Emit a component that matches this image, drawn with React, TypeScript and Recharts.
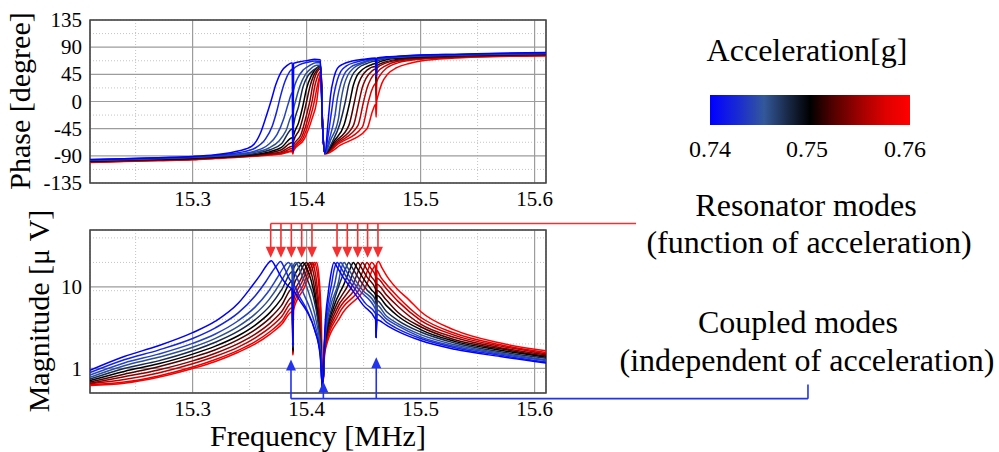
import {
  LineChart,
  Line,
  XAxis,
  YAxis,
  CartesianGrid,
  ReferenceArea,
  ReferenceLine,
  ReferenceDot,
} from "recharts"

const serif = "'Liberation Serif', 'Times New Roman', Times, serif"

// acceleration of each sweep [g] and its colour on the blue-black-red scale
const accelerations = [0.74, 0.742, 0.744, 0.746, 0.748, 0.75, 0.752, 0.754, 0.756, 0.758, 0.76]
const curveColors = [
  "#0000ff", "#1424e0", "#2542c0", "#2d4f90", "#18284f", "#000000",
  "#4d0000", "#870000", "#bb0000", "#e20000", "#ff0000",
]
const scaleLabels = ["0.74", "0.75", "0.76"]
const scaleStops: [number, string][] = [
  [0, "#0000ff"], [0.14, "#1a2ad2"], [0.27, "#33589a"], [0.4, "#16253f"], [0.5, "#000000"],
  [0.6, "#4a0000"], [0.75, "#a00000"], [0.88, "#e00000"], [1, "#ff0000"],
]

const freqTicks = [15.3, 15.4, 15.5, 15.6]
const freqMinorTicks = [15.25, 15.35, 15.45, 15.55]
const phaseTicks = [-135, -90, -45, 0, 45, 90, 135]
const phaseMinorTicks = [-112.5, -67.5, -22.5, 22.5, 67.5, 112.5]
const magTicks = [1, 10]
const magMinorTicks = [0.6, 0.7, 0.8, 0.9, 2, 3, 4, 5, 6, 7, 8, 9, 20, 30, 40]

// annotated frequencies [MHz]
const resonatorModes = [15.3685, 15.3775, 15.3866, 15.3957, 15.4047, 15.4267, 15.4357, 15.4448, 15.4535, 15.4626]
const coupledModes = [15.3863, 15.4147, 15.4611]
const coupledTips = [1.29, 0.69, 1.37]

// each row: frequency [MHz], magnitude [µV], phase [degree]
const accel0740 = [
  [15.21, 0.95, -96], [15.24, 1.4, -95], [15.27, 1.9, -93], [15.3, 2.75, -91], [15.32, 3.8, -88],
  [15.34, 6.3, -82], [15.352, 10.2, -74], [15.36, 14.5, -50], [15.365, 18.5, -22], [15.369, 21, 2],
  [15.373, 17.5, 28], [15.378, 13, 50], [15.383, 10.5, 60], [15.3875, 9.2, 64], [15.388, 1.9, -82],
  [15.3885, 8.8, 63], [15.394, 6.8, 66], [15.401, 4.8, 68], [15.407, 3.0, 70], [15.412, 1.4, 69],
  [15.414, 0.55, -40], [15.416, 3.0, -86], [15.419, 8.5, -30], [15.421, 13.5, 10], [15.424, 20, 40],
  [15.427, 17.3, 55], [15.432, 13.2, 62], [15.44, 9.2, 67], [15.45, 5.9, 70], [15.4605, 4.0, 72],
  [15.461, 2.4, 42], [15.4615, 3.95, 72], [15.47, 3.4, 74], [15.48, 2.85, 75], [15.5, 2.2, 77],
  [15.53, 1.72, 78], [15.57, 1.4, 80], [15.61, 1.17, 81],
]
const accel0742 = [
  [15.21, 0.89, -96.5], [15.24, 1.28, -95], [15.27, 1.68, -93.5], [15.3, 2.33, -91.5], [15.32, 3.15, -89],
  [15.34, 4.8, -85], [15.355, 7.8, -77], [15.364, 11.5, -62], [15.37, 15.5, -40], [15.374, 18.5, -15],
  [15.377, 20.5, 8], [15.381, 16.5, 33], [15.385, 12.5, 49], [15.3875, 11, 54], [15.388, 1.9, -72],
  [15.3885, 10.5, 54], [15.394, 7.5, 61], [15.401, 5.0, 65], [15.407, 3.0, 67], [15.412, 1.5, 66],
  [15.414, 0.55, -40], [15.416, 2.5, -86], [15.419, 6.5, -55], [15.422, 11, -15], [15.424, 16, 12],
  [15.427, 20, 36], [15.43, 17.3, 50], [15.435, 13.2, 59], [15.443, 9.2, 65], [15.452, 6.2, 69],
  [15.4605, 4.7, 71], [15.461, 2.4, 42], [15.4615, 4.65, 71], [15.47, 3.7, 73], [15.48, 3.06, 74.5],
  [15.5, 2.33, 76.5], [15.53, 1.8, 78], [15.57, 1.45, 79.5], [15.61, 1.2, 80.5],
]
const accel0744 = [
  [15.21, 0.83, -97], [15.24, 1.17, -95.5], [15.27, 1.5, -94], [15.3, 2.03, -92], [15.32, 2.65, -90],
  [15.34, 3.85, -87], [15.355, 5.7, -82], [15.366, 8.6, -72], [15.374, 12.8, -55], [15.38, 17.5, -28],
  [15.384, 20, -3], [15.3875, 16.5, 15], [15.388, 1.9, -62], [15.3885, 15.5, 18], [15.392, 12.5, 38],
  [15.397, 8.5, 52], [15.403, 5.4, 60], [15.408, 3.2, 64], [15.412, 1.6, 64], [15.414, 0.55, -40],
  [15.416, 2.4, -86], [15.42, 6.0, -62], [15.425, 11.5, -22], [15.427, 16, 5], [15.43, 20, 30],
  [15.433, 17.3, 45], [15.438, 13.2, 56], [15.446, 9.2, 63], [15.4605, 5.3, 70], [15.461, 2.4, 42],
  [15.4615, 5.25, 70], [15.47, 4.05, 72.5], [15.48, 3.33, 74], [15.5, 2.44, 76], [15.53, 1.87, 77.5],
  [15.57, 1.5, 79], [15.61, 1.25, 80],
]
const accel0746 = [
  [15.21, 0.78, -97.5], [15.24, 1.08, -96], [15.27, 1.37, -94.5], [15.3, 1.82, -92.5], [15.32, 2.34, -90.5],
  [15.34, 3.28, -88], [15.355, 4.67, -84], [15.367, 7.0, -77], [15.376, 10.7, -65], [15.382, 15, -48],
  [15.3875, 19.5, -22], [15.388, 1.9, -62], [15.3885, 18.5, -15], [15.3905, 20, 2], [15.394, 16, 25],
  [15.399, 11, 45], [15.404, 6.8, 55], [15.409, 3.5, 60], [15.412, 1.8, 60], [15.414, 0.55, -40],
  [15.416, 2.3, -86], [15.421, 5.8, -64], [15.428, 11.5, -28], [15.43, 16, 0], [15.433, 20, 28],
  [15.436, 17.3, 43], [15.441, 13.2, 55], [15.449, 9.2, 63], [15.4605, 6.1, 69], [15.461, 2.4, 42],
  [15.4615, 6.0, 69], [15.47, 4.4, 72], [15.48, 3.55, 73.5], [15.5, 2.6, 75.5], [15.53, 1.95, 77],
  [15.57, 1.55, 78.5], [15.61, 1.28, 79.5],
]
const accel0748 = [
  [15.21, 0.74, -98], [15.24, 1.0, -96.5], [15.27, 1.24, -95], [15.3, 1.65, -93], [15.32, 2.1, -91],
  [15.34, 2.87, -89], [15.355, 3.98, -86], [15.368, 5.9, -80], [15.378, 9.2, -70], [15.3875, 15.5, -45],
  [15.388, 1.8, -66], [15.3885, 16.7, -40], [15.393, 20, -8], [15.397, 16.5, 25], [15.401, 12, 42],
  [15.406, 7.5, 52], [15.41, 3.8, 57], [15.4125, 1.9, 58], [15.414, 0.55, -40], [15.416, 2.2, -86],
  [15.423, 6.0, -65], [15.429, 11, -38], [15.434, 16.5, 0], [15.437, 20, 28], [15.44, 17.3, 43],
  [15.445, 13.2, 55], [15.453, 9.2, 63], [15.4605, 6.9, 67], [15.461, 2.4, 40], [15.4615, 6.8, 67],
  [15.47, 5.0, 71], [15.48, 3.9, 73], [15.5, 2.8, 75], [15.53, 2.05, 76.5], [15.57, 1.6, 78],
  [15.61, 1.33, 79],
]
const accel0750 = [
  [15.21, 0.71, -98.5], [15.24, 0.92, -97], [15.27, 1.14, -95.5], [15.3, 1.5, -94], [15.32, 1.88, -92],
  [15.34, 2.52, -90], [15.355, 3.41, -87.5], [15.368, 4.88, -83], [15.378, 7.2, -76], [15.3875, 12, -60],
  [15.388, 1.7, -72], [15.3885, 12.5, -57], [15.393, 17.1, -35], [15.397, 20, -5], [15.4, 17, 22],
  [15.404, 12, 42], [15.408, 6.5, 54], [15.411, 3.0, 58], [15.4125, 1.8, 58], [15.414, 0.55, -40],
  [15.416, 2.1, -86], [15.424, 5.8, -66], [15.433, 11, -38], [15.438, 16.5, 0], [15.441, 20, 27],
  [15.444, 17.3, 42], [15.449, 13.2, 53], [15.457, 9.2, 61], [15.4605, 8.0, 63], [15.461, 2.4, 40],
  [15.4615, 7.9, 63], [15.47, 5.9, 69], [15.48, 4.4, 71.5], [15.5, 3.0, 74], [15.53, 2.15, 76],
  [15.57, 1.67, 77.5], [15.61, 1.37, 78.5],
]
const accel0752 = [
  [15.21, 0.68, -99], [15.24, 0.85, -97.5], [15.27, 1.05, -96], [15.3, 1.37, -94.5], [15.32, 1.7, -92.5],
  [15.34, 2.26, -90.5], [15.355, 3.0, -88.5], [15.368, 4.18, -85], [15.378, 5.95, -80], [15.3875, 9.6, -68],
  [15.388, 1.65, -76], [15.3885, 10.2, -66], [15.394, 14.7, -45], [15.397, 18.2, -25], [15.4, 20, 0],
  [15.403, 16.5, 25], [15.406, 11.5, 42], [15.409, 6.0, 52], [15.4115, 2.8, 56], [15.4125, 1.9, 56],
  [15.414, 0.55, -40], [15.416, 2.0, -86], [15.425, 5.5, -67], [15.437, 11, -40], [15.442, 16.5, 0],
  [15.445, 20, 26], [15.448, 17.3, 40], [15.453, 13.2, 52], [15.4605, 9.4, 58], [15.461, 2.4, 35],
  [15.4615, 9.1, 59], [15.47, 6.9, 66], [15.48, 4.9, 70], [15.5, 3.25, 73], [15.53, 2.25, 75],
  [15.57, 1.74, 77], [15.61, 1.42, 78],
]
const accel0754 = [
  [15.21, 0.66, -99.5], [15.24, 0.79, -98], [15.27, 0.96, -96.5], [15.3, 1.24, -95], [15.32, 1.54, -93],
  [15.34, 2.02, -91], [15.355, 2.64, -89], [15.368, 3.6, -86.5], [15.378, 4.96, -83], [15.3875, 7.6, -74],
  [15.388, 1.6, -80], [15.3885, 8.1, -73], [15.395, 12.5, -55], [15.4, 18.1, -22], [15.403, 20, 2],
  [15.4055, 16, 28], [15.408, 10.5, 44], [15.4105, 5.0, 52], [15.4125, 2.2, 54], [15.414, 0.55, -40],
  [15.416, 1.9, -86], [15.426, 5.2, -68], [15.441, 11, -40], [15.446, 16.5, 0], [15.449, 20, 24],
  [15.452, 17.3, 38], [15.457, 13.2, 50], [15.4605, 11.2, 54], [15.461, 2.4, 30], [15.4615, 10.9, 55],
  [15.47, 8.0, 64], [15.48, 5.8, 68.5], [15.5, 3.5, 72], [15.53, 2.4, 74], [15.57, 1.8, 76.5],
  [15.61, 1.47, 77.5],
]
const accel0756 = [
  [15.21, 0.65, -100], [15.24, 0.73, -98.5], [15.27, 0.88, -97], [15.3, 1.14, -95.5], [15.32, 1.41, -93.5],
  [15.34, 1.83, -91.5], [15.355, 2.38, -89.5], [15.368, 3.19, -87.5], [15.378, 4.31, -85], [15.3875, 6.5, -78],
  [15.388, 1.55, -83], [15.3885, 6.9, -77], [15.396, 11.5, -58], [15.402, 18, -22], [15.405, 20, 2],
  [15.407, 16.5, 24], [15.409, 11, 38], [15.411, 5.5, 47], [15.4125, 2.5, 50], [15.414, 0.55, -40],
  [15.416, 1.8, -86], [15.427, 4.9, -69], [15.445, 11, -40], [15.45, 16.5, 0], [15.453, 20, 22],
  [15.456, 17.3, 36], [15.4605, 13.5, 46], [15.461, 2.4, 10], [15.4615, 12.9, 47], [15.47, 9.5, 60],
  [15.48, 6.7, 66.5], [15.5, 3.9, 71], [15.53, 2.55, 73.5], [15.57, 1.88, 76], [15.61, 1.52, 77],
]
const accel0758 = [
  [15.21, 0.63, -100.5], [15.24, 0.68, -99], [15.27, 0.81, -97.5], [15.3, 1.04, -96], [15.32, 1.29, -94],
  [15.34, 1.67, -92], [15.355, 2.13, -90], [15.368, 2.84, -88], [15.378, 3.76, -86], [15.3875, 5.6, -81],
  [15.388, 1.5, -85], [15.3885, 5.9, -80], [15.397, 10.5, -60], [15.403, 16.8, -28], [15.407, 20, 2],
  [15.409, 16, 22], [15.411, 9.5, 38], [15.4125, 4.0, 45], [15.414, 0.55, -40], [15.416, 1.7, -86],
  [15.428, 4.6, -70], [15.449, 11, -42], [15.454, 16.5, -2], [15.457, 20, 18], [15.4605, 16.9, 30],
  [15.461, 2.4, -8], [15.4615, 16, 32], [15.465, 13.2, 45], [15.47, 10.8, 55], [15.48, 7.6, 64],
  [15.5, 4.25, 70], [15.53, 2.7, 73], [15.57, 1.95, 75.5], [15.61, 1.57, 76.5],
]
const accel0760 = [
  [15.21, 0.62, -101], [15.24, 0.66, -99.5], [15.27, 0.78, -98], [15.3, 1.0, -96.5], [15.32, 1.22, -94.5],
  [15.34, 1.58, -92.5], [15.355, 2.0, -90.5], [15.368, 2.64, -88.5], [15.378, 3.46, -87], [15.3875, 5.0, -83],
  [15.388, 1.45, -87], [15.3885, 5.2, -82], [15.398, 9.8, -62], [15.4045, 16.2, -30], [15.409, 20, 2],
  [15.4105, 15, 25], [15.412, 8, 45], [15.413, 3.5, 40], [15.414, 0.55, -40], [15.416, 1.6, -87],
  [15.43, 4.4, -72], [15.453, 11, -45], [15.458, 16.5, -15], [15.4605, 18.5, -5], [15.461, 2.6, -26],
  [15.4615, 19.2, 0], [15.463, 20.5, 12], [15.466, 17.3, 30], [15.471, 13.2, 45], [15.479, 9.6, 56],
  [15.49, 6.9, 63], [15.5, 5.0, 67], [15.53, 2.95, 72], [15.57, 2.05, 74.5], [15.61, 1.65, 75.5],
]

const sweeps = [
  accel0740, accel0742, accel0744, accel0746, accel0748, accel0750,
  accel0752, accel0754, accel0756, accel0758, accel0760,
]
const rows = sweeps.map((s) => s.map(([f, m, p]) => ({ f, m, p })))
// red drawn first so the blue sweeps end up on top
const drawOrder = accelerations.map((_, i) => accelerations.length - 1 - i)

const freqDomain: [number, number] = [15.21, 15.61]
const phaseDomain: [number, number] = [-135, 135]
const magDomain: [number, number] = [0.5, 50]

// annotation levels, in data units of the magnitude panel
const RED = "#f43030"
const BLUE = "#2233ee"
const redBarLevel = 60
const redTipLevel = 22.8
const redBarEnd = 15.689
const blueBarLevel = 0.426
const blueBarEnd = 15.8398
const blueEndTop = 0.634

function FreqTick(props: any) {
  const { x, y, payload } = props
  return (
    <text x={x} y={y} dy="0.71em" textAnchor="middle" fontFamily={serif} fontSize={21} fill="#000">
      {Number(payload.value).toFixed(1)}
    </text>
  )
}

function ValueTick(props: any) {
  const { x, y, payload } = props
  return (
    <text x={x} y={y} dy="0.34em" textAnchor="end" fontFamily={serif} fontSize={21} fill="#000">
      {payload.value}
    </text>
  )
}

function DownHead(props: any) {
  const { cx, cy } = props
  return <polygon points={`${cx},${cy} ${cx - 5},${cy - 11} ${cx + 5},${cy - 11}`} fill={RED} />
}

function UpHead(props: any) {
  const { cx, cy } = props
  return <polygon points={`${cx},${cy} ${cx - 5},${cy + 11} ${cx + 5},${cy + 11}`} fill={BLUE} />
}

function PhaseChart() {
  return (
    <LineChart width={560} height={215} margin={{ top: 20, right: 14, bottom: 0, left: 0 }}>
      <XAxis xAxisId="minor" dataKey="f" type="number" domain={freqDomain} ticks={freqMinorTicks} allowDataOverflow hide />
      <YAxis yAxisId="minor" type="number" domain={phaseDomain} ticks={phaseMinorTicks} allowDataOverflow hide />
      <CartesianGrid xAxisId="minor" yAxisId="minor" stroke="#c4c4c4" strokeDasharray="1 2" />
      <CartesianGrid stroke="#9c9c9c" strokeWidth={1.2} />
      <XAxis
        dataKey="f"
        type="number"
        domain={freqDomain}
        ticks={freqTicks}
        interval={0}
        allowDataOverflow
        height={32}
        axisLine={false}
        tickLine={false}
        tick={<FreqTick />}
      />
      <YAxis
        type="number"
        domain={phaseDomain}
        ticks={phaseTicks}
        interval={0}
        allowDataOverflow
        width={90}
        axisLine={false}
        tickLine={false}
        tick={<ValueTick />}
      />
      {drawOrder.map((i) => (
        <Line
          key={i}
          data={rows[i]}
          dataKey="p"
          type="monotone"
          stroke={curveColors[i]}
          strokeWidth={1.5}
          dot={false}
          activeDot={false}
          isAnimationActive={false}
        />
      ))}
      <ReferenceArea x1={15.21} x2={15.61} y1={-135} y2={135} fill="none" stroke="#444" strokeWidth={1.5} ifOverflow="visible" />
    </LineChart>
  )
}

function MagnitudeChart() {
  return (
    <LineChart width={999} height={252} margin={{ top: 30, right: 453, bottom: 19, left: 0 }}>
      <XAxis xAxisId="minor" dataKey="f" type="number" domain={freqDomain} ticks={freqMinorTicks} allowDataOverflow hide />
      <YAxis yAxisId="minor" type="number" scale="log" domain={magDomain} ticks={magMinorTicks} allowDataOverflow hide />
      <CartesianGrid xAxisId="minor" yAxisId="minor" stroke="#c4c4c4" strokeDasharray="1 2" />
      <CartesianGrid stroke="#9c9c9c" strokeWidth={1.2} />
      <XAxis
        dataKey="f"
        type="number"
        domain={freqDomain}
        ticks={freqTicks}
        interval={0}
        allowDataOverflow
        height={40}
        axisLine={false}
        tickLine={false}
        tick={<FreqTick />}
      />
      <YAxis
        type="number"
        scale="log"
        domain={magDomain}
        ticks={magTicks}
        interval={0}
        allowDataOverflow
        width={90}
        axisLine={false}
        tickLine={false}
        tick={<ValueTick />}
      />
      {drawOrder.map((i) => (
        <Line
          key={i}
          data={rows[i]}
          dataKey="m"
          type="monotone"
          stroke={curveColors[i]}
          strokeWidth={1.5}
          dot={false}
          activeDot={false}
          isAnimationActive={false}
        />
      ))}
      <ReferenceArea x1={15.21} x2={15.61} y1={0.5} y2={50} fill="none" stroke="#444" strokeWidth={1.5} ifOverflow="visible" />

      {/* resonator modes: red arrows from the bar above the panel */}
      <ReferenceLine
        segment={[{ x: resonatorModes[0], y: redBarLevel }, { x: redBarEnd, y: redBarLevel }]}
        stroke={RED}
        strokeWidth={1.6}
        ifOverflow="visible"
      />
      {resonatorModes.map((f) => (
        <ReferenceLine
          key={`rs${f}`}
          segment={[{ x: f, y: redBarLevel }, { x: f, y: redTipLevel * 1.2 }]}
          stroke={RED}
          strokeWidth={1.6}
          ifOverflow="visible"
        />
      ))}
      {resonatorModes.map((f) => (
        <ReferenceDot key={`rh${f}`} x={f} y={redTipLevel} ifOverflow="visible" shape={DownHead} />
      ))}

      {/* coupled modes: blue arrows from the bar below the panel */}
      <ReferenceLine
        segment={[{ x: coupledModes[0], y: blueBarLevel }, { x: blueBarEnd, y: blueBarLevel }]}
        stroke={BLUE}
        strokeWidth={1.6}
        ifOverflow="visible"
      />
      <ReferenceLine
        segment={[{ x: blueBarEnd, y: blueBarLevel }, { x: blueBarEnd, y: blueEndTop }]}
        stroke={BLUE}
        strokeWidth={1.6}
        ifOverflow="visible"
      />
      {coupledModes.map((f, k) => (
        <ReferenceLine
          key={`bs${f}`}
          segment={[{ x: f, y: blueBarLevel }, { x: f, y: coupledTips[k] * 0.8 }]}
          stroke={BLUE}
          strokeWidth={1.6}
          ifOverflow="visible"
        />
      ))}
      {coupledModes.map((f, k) => (
        <ReferenceDot key={`bh${f}`} x={f} y={coupledTips[k]} ifOverflow="visible" shape={UpHead} />
      ))}
    </LineChart>
  )
}

function Overlay() {
  const scaleX = [710, 807, 905]
  return (
    <svg
      width={999}
      height={452}
      style={{ position: "absolute", left: 0, top: 0, pointerEvents: "none" }}
      fontFamily={serif}
      fill="#000"
    >
      <defs>
        <linearGradient id="accelScale" x1="0" y1="0" x2="1" y2="0">
          {scaleStops.map(([o, c]) => (
            <stop key={o} offset={o} stopColor={c} />
          ))}
        </linearGradient>
      </defs>
      <text transform="translate(30,101) rotate(-90)" textAnchor="middle" fontSize={30}>
        Phase [degree]
      </text>
      <text transform="translate(49,311) rotate(-90)" textAnchor="middle" fontSize={30}>
        Magnitude [μ V]
      </text>
      <text x={318} y={446} textAnchor="middle" fontSize={30}>
        Frequency [MHz]
      </text>

      <text x={807} y={61} textAnchor="middle" fontSize={32}>
        Acceleration[g]
      </text>
      <rect x={710} y={95} width={200} height={30} fill="url(#accelScale)" />
      {scaleLabels.map((t, k) => (
        <text key={t} x={scaleX[k]} y={157} textAnchor="middle" fontSize={24}>
          {t}
        </text>
      ))}

      <text x={806} y={216} textAnchor="middle" fontSize={32}>
        Resonator modes
      </text>
      <text x={809} y={253} textAnchor="middle" fontSize={32}>
        (function of acceleration)
      </text>
      <text x={798} y={333} textAnchor="middle" fontSize={32}>
        Coupled modes
      </text>
      <text x={807} y={371} textAnchor="middle" fontSize={32}>
        (independent of acceleration)
      </text>
    </svg>
  )
}

export default function App() {
  return (
    <div
      style={{
        position: "absolute",
        left: 0,
        top: 0,
        width: 999,
        height: 452,
        background: "#fff",
        fontFamily: serif,
      }}
    >
      <div style={{ position: "absolute", left: 0, top: 0 }}>
        <PhaseChart />
      </div>
      <div style={{ position: "absolute", left: 0, top: 200 }}>
        <MagnitudeChart />
      </div>
      <Overlay />
    </div>
  )
}
